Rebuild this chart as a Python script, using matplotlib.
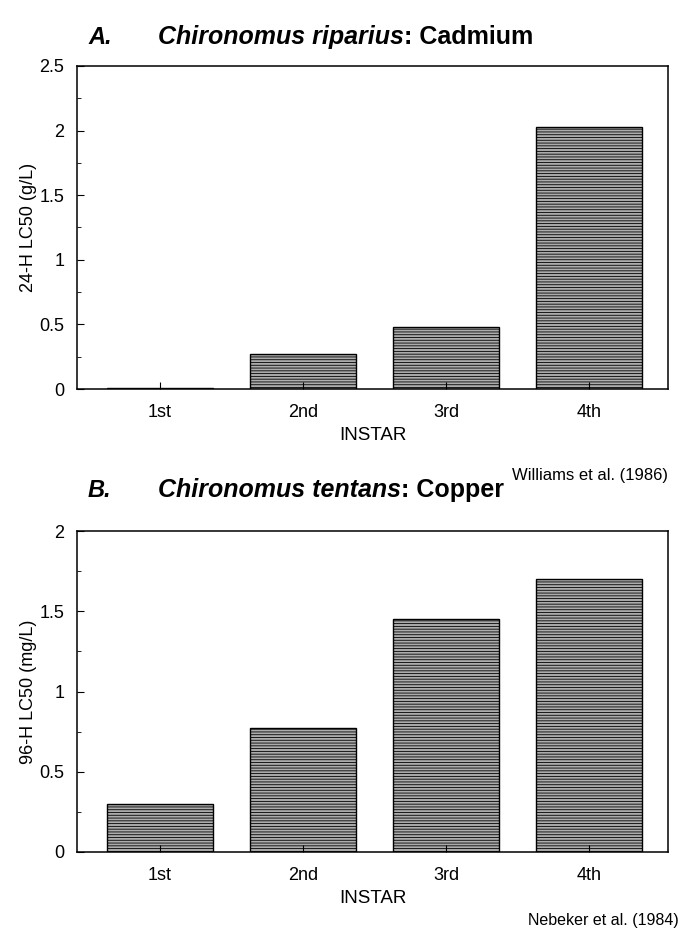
import matplotlib
matplotlib.use("Agg")
import matplotlib.pyplot as plt
from matplotlib.ticker import MultipleLocator

plt.rcParams["font.family"] = ["Liberation Sans", "DejaVu Sans"]
plt.rcParams["hatch.color"] = "#767676"
plt.rcParams["hatch.linewidth"] = 0.6

# data
instars = ["1st", "2nd", "3rd", "4th"]
cadmium_lc50 = [0.01, 0.27, 0.48, 2.03]   # 24-H LC50 (g/L), C. riparius
copper_lc50 = [0.30, 0.77, 1.45, 1.70]    # 96-H LC50 (mg/L), C. tentans

BAR_COLOR = "#acacac"


def draw_panel(ax, values, ymax, ylabel, letter, species, metal,
               source, title_y, src_x, src_y, src_size):
    fig = ax.figure
    x = range(len(instars))
    ax.bar(x, values, width=0.74, color=BAR_COLOR, edgecolor="black",
           linewidth=1.0, hatch="------")
    ax.set_xlim(-0.58, 3.55)
    ax.set_ylim(0, ymax)
    ax.set_xticks(list(x))
    ax.set_xticklabels(instars, fontsize=13)
    ax.yaxis.set_major_locator(MultipleLocator(0.5))
    ax.yaxis.set_minor_locator(MultipleLocator(0.25))
    ax.yaxis.set_major_formatter(plt.FuncFormatter(lambda v, p: f"{v:g}"))
    ax.tick_params(axis="y", which="major", direction="in", length=5,
                   labelsize=13, pad=9)
    ax.tick_params(axis="y", which="minor", direction="in", length=3)
    ax.tick_params(axis="x", direction="in", length=5, pad=11)
    ax.set_xlabel("INSTAR", fontsize=13.5, labelpad=4)
    ax.set_ylabel(ylabel, fontsize=13, labelpad=2)
    for s in ax.spines.values():
        s.set_linewidth(1.1)

    # panel title: letter, italic species name, plain metal name
    fig.text(88 / 680, 1 - title_y / 935, letter + ".", fontsize=17,
             fontweight="bold", fontstyle="italic", va="baseline")
    t1 = fig.text(158 / 680, 1 - title_y / 935, species, fontsize=18,
                  fontweight="bold", fontstyle="italic", va="baseline")
    ax.annotate(": " + metal, xy=(1, 0), xycoords=t1, fontsize=18,
                fontweight="bold", va="bottom", ha="left")
    fig.text(src_x / 680, 1 - src_y / 935, source, fontsize=src_size,
             ha="right", va="center")


fig = plt.figure(figsize=(6.8, 9.35), dpi=100)
ax_a = fig.add_axes([77 / 680, 1 - 389 / 935, 591 / 680, 323 / 935])
ax_b = fig.add_axes([77 / 680, 1 - 852 / 935, 591 / 680, 321 / 935])

draw_panel(ax_a, cadmium_lc50, 2.5, "24-H LC50 (g/L)", "A",
           "Chironomus riparius", "Cadmium", "Williams et al. (1986)",
           44, 668, 475, 12)
draw_panel(ax_b, copper_lc50, 2.0, "96-H LC50 (mg/L)", "B",
           "Chironomus tentans", "Copper", "Nebeker et al. (1984)",
           497, 679, 921, 11.5)

fig.savefig("out.png", dpi=100)
